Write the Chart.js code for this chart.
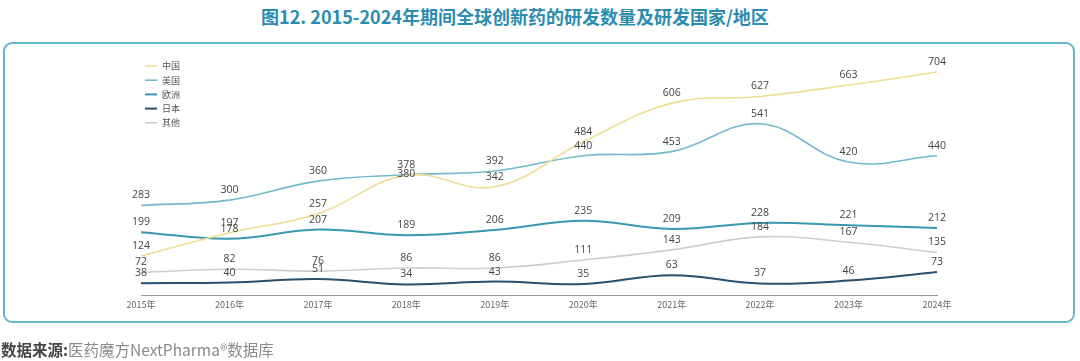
<!DOCTYPE html>
<html>
<head>
<meta charset="utf-8">
<script src="https://cdn.jsdelivr.net/npm/chart.js@4.4.1/dist/chart.umd.min.js"></script>
<style>
  html, body { margin: 0; padding: 0; background: #fff; }
  body { width: 1080px; height: 361px; position: relative; overflow: hidden; font-family: "Noto Sans CJK SC", "Noto Sans", sans-serif; }
  #title { position: absolute; left: 0; top: 3px; width: 1030px; text-align: center; font-size: 18px; font-weight: bold; color: #2a8db0; letter-spacing: 0px; }
  #box { position: absolute; left: 3px; top: 42px; width: 1068px; height: 277px; border: 2px solid #62b6cd; border-radius: 9px; }
  #chart-wrap { position: absolute; left: 0; top: 0; width: 1080px; height: 361px; }
  #source { position: absolute; left: 1px; top: 338px; font-size: 15.5px; color: #8a8a8a; }
  #source b { color: #444; }
</style>
</head>
<body>
<div id="title">图12. 2015-2024年期间全球创新药的研发数量及研发国家/地区</div>
<div id="box"></div>
<div id="chart-wrap"><canvas id="chart" width="1080" height="361"></canvas></div>
<div id="source"><b>数据来源:</b>医药魔方NextPharma®数据库</div>
<script>
// --- Data ---
const years = ['2015年', '2016年', '2017年', '2018年', '2019年', '2020年', '2021年', '2022年', '2023年', '2024年'];
const china  = [124, 197, 257, 378, 342, 484, 606, 627, 663, 704];
const usa    = [283, 300, 360, 380, 392, 440, 453, 541, 420, 440];
const europe = [199, 178, 207, 189, 206, 235, 209, 228, 221, 212];
const japan  = [38, 40, 51, 34, 43, 35, 63, 37, 46, 73];
const others = [72, 82, 76, 86, 86, 111, 143, 184, 167, 135];

// --- Series settings ---
const seriesNames = ['中国', '美国', '欧洲', '日本', '其他'];
const seriesColors = ['#efdd92', '#72b9cc', '#3b97b0', '#284f6d', '#cdcdcd'];
const seriesWidths = [1.6, 1.6, 2, 2, 1.6];
// label offset tweaks (px) for crowded points: [datasetIndex, pointIndex, dy]
const labelTweaks = [[1, 3, 9]];

// --- Plugins ---
const valueLabels = {
    id: 'valueLabels',
    afterDatasetsDraw(chart) {
        const ctx = chart.ctx;
        ctx.save();
        ctx.font = '10.5px "Open Sans", "DejaVu Sans", sans-serif';
        ctx.fillStyle = '#444';
        ctx.textAlign = 'center';
        ctx.textBaseline = 'middle';
        chart.data.datasets.forEach((ds, di) => {
            const meta = chart.getDatasetMeta(di);
            meta.data.forEach((pt, i) => {
                let dy = -10;
                labelTweaks.forEach(t => { if (t[0] === di && t[1] === i) dy += t[2]; });
                ctx.fillText(String(ds.data[i]), pt.x, pt.y + dy);
            });
        });
        ctx.restore();
    }
};

const sideLegend = {
    id: 'sideLegend',
    afterDraw(chart) {
        const ctx = chart.ctx;
        ctx.save();
        ctx.font = '9px "Noto Sans CJK SC", sans-serif';
        ctx.textBaseline = 'middle';
        chart.data.datasets.forEach((ds, di) => {
            const y = 66 + di * 14.2;
            ctx.strokeStyle = ds.borderColor;
            ctx.lineWidth = ds.borderWidth;
            ctx.beginPath();
            ctx.moveTo(145, y);
            ctx.lineTo(157, y);
            ctx.stroke();
            ctx.fillStyle = '#555';
            ctx.fillText(ds.label, 162, y);
        });
        ctx.restore();
    }
};

// --- Chart ---
const allSeries = [china, usa, europe, japan, others];
const datasets = allSeries.map((arr, i) => ({
    label: seriesNames[i],
    data: arr,
    borderColor: seriesColors[i],
    backgroundColor: seriesColors[i],
    borderWidth: seriesWidths[i],
    pointRadius: 0,
    tension: 0.4,
    fill: false
}));

new Chart(document.getElementById('chart'), {
    type: 'line',
    data: { labels: years, datasets: datasets },
    options: {
        responsive: false,
        animation: false,
        layout: { padding: { left: 141, right: 143, top: 67, bottom: 47 } },
        plugins: { legend: { display: false }, tooltip: { enabled: false } },
        scales: {
            x: {
                offset: false,
                grid: { display: false, drawTicks: false },
                border: { display: true, color: '#999', width: 1 },
                ticks: { color: '#666', font: { size: 9, family: '"Noto Sans CJK SC", sans-serif' }, padding: 4, maxRotation: 0, autoSkip: false }
            },
            y: { display: false, min: 0, max: 720 }
        }
    },
    plugins: [valueLabels, sideLegend]
});
</script>
</body>
</html>
